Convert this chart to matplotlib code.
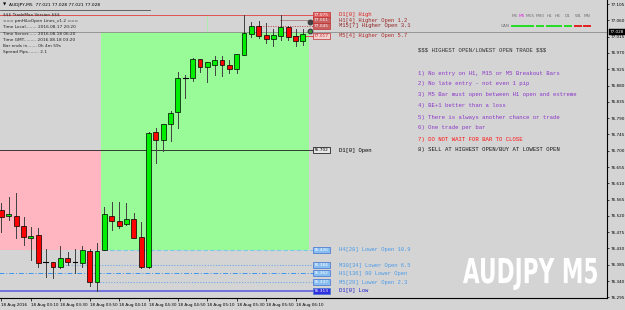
import numpy as np
import matplotlib
matplotlib.use('Agg')
import matplotlib.pyplot as plt
from matplotlib.patches import Rectangle, PathPatch
from matplotlib.textpath import TextPath
from matplotlib.font_manager import FontProperties
from matplotlib.transforms import Affine2D, blended_transform_factory

# ---------------- data ----------------
opens  = [76.536, 76.520, 76.520, 76.492, 76.459, 76.467, 76.393, 76.393, 76.379, 76.404,
          76.393, 76.390, 76.423, 76.337, 76.426, 76.520, 76.506, 76.498, 76.511, 76.462,
          76.379, 76.752, 76.730, 76.774, 76.807, 76.901, 76.901, 76.953, 76.931, 76.937,
          76.951, 76.937, 76.926, 76.964, 77.022, 77.045, 77.020, 77.009, 77.017, 77.042,
          77.017, 77.003]
highs  = [76.556, 76.572, 76.583, 76.517, 76.489, 76.487, 76.429, 76.393, 76.437, 76.420,
          76.429, 76.437, 76.429, 76.445, 76.545, 76.558, 76.558, 76.556, 76.528, 76.503,
          76.752, 76.763, 76.774, 76.810, 76.918, 76.909, 76.956, 76.953, 76.945, 76.962,
          76.962, 76.951, 76.967, 77.075, 77.056, 77.058, 77.053, 77.036, 77.075, 77.045,
          77.036, 77.036]
lows   = [76.476, 76.509, 76.459, 76.440, 76.398, 76.379, 76.351, 76.348, 76.376, 76.384,
          76.362, 76.379, 76.326, 76.313, 76.426, 76.481, 76.487, 76.495, 76.459, 76.376,
          76.376, 76.666, 76.699, 76.727, 76.763, 76.846, 76.893, 76.918, 76.890, 76.909,
          76.906, 76.915, 76.915, 76.964, 77.014, 77.011, 76.998, 76.989, 77.006, 77.006,
          76.989, 76.992]
closes = [76.517, 76.525, 76.492, 76.462, 76.465, 76.390, 76.392, 76.379, 76.404, 76.393,
          76.393, 76.426, 76.337, 76.423, 76.525, 76.506, 76.492, 76.511, 76.459, 76.379,
          76.749, 76.730, 76.774, 76.804, 76.901, 76.901, 76.953, 76.931, 76.945, 76.951,
          76.937, 76.926, 76.967, 77.025, 77.045, 77.017, 77.009, 77.020, 77.042, 77.014,
          77.003, 77.022]

time_tick_pos = [0, 4, 8, 12, 16, 20, 24, 28, 32, 36, 40]
time_tick_labels = ['18 Aug 2016', '18 Aug 03:10', '18 Aug 03:30', '18 Aug 03:50',
                    '18 Aug 04:10', '18 Aug 04:30', '18 Aug 04:50', '18 Aug 05:10',
                    '18 Aug 05:30', '18 Aug 05:50', '18 Aug 06:10']
price_ticks = [76.295, 76.340, 76.385, 76.430, 76.475, 76.520, 76.565, 76.610, 76.655,
               76.700, 76.745, 76.790, 76.835, 76.880, 76.925, 76.970, 77.015, 77.060, 77.105]

bid = 77.028
d1_open = 76.702
high_levels = [77.075, 77.061, 77.045, 77.017]
high_labels = ['D1[0] High', 'H1[4] Higher Open 1.2', 'M15[7] Higher Open 3.1', 'M5[4] Higher Open 5.7']
low_levels = [76.426, 76.384, 76.362, 76.337, 76.313]
low_labels = ['H4[28] Lower Open 10.9', 'M30[34] Lower Open 6.5', 'H1[136] 90 Lower Open',
              'M5[29] Lower Open 2.3', 'D1[0] Low']

rules_title = '$$$ HIGHEST OPEN/LOWEST OPEN TRADE $$$'
rules = ['1) No entry on H1, M15 or M5 Breakout Bars',
         '2) No late entry - not even 1 pip',
         '3) M5 Bar must open between H1 open and extreme',
         '4) BE+1 better than a loss',
         '5) There is always another chance or trade',
         '6) One trade per bar',
         '7) DO NOT WAIT FOR BAR TO CLOSE',
         '8) SELL AT HIGHEST OPEN/BUY AT LOWEST OPEN']
info_lines = ['$$$ TradeMax Version $$$',
              '=== pmHiLoOpen Lines_v1.2 ===',
              'Time Local........ 2016.08.17 20:20',
              'Time Server...... 2016.08.18 06:20',
              'Time GMT......... 2016.08.18 03:20',
              'Bar ends in....... 0h 4m 59s',
              'Spread Pips........ 2.1']
tf_labels = ['M1', 'M5', 'M15', 'M30', 'H1', 'H4', 'D1', 'W1', 'MN']
tf_state = [1, 1, 1, 1, 1, 1, 1, 0, 0]
title_txt = 'AUDJPY,M5  77.021 77.028 77.021 77.028'
watermark = 'AUDJPY M5'

# ---------------- figure ----------------
W, H = 625, 310
BG = '#D4D4D4'
fig = plt.figure(figsize=(W / 100, H / 100), dpi=100, facecolor=BG)

def px(x, y):
    return x / W, 1 - y / H

ax = fig.add_axes([0, (H - 298) / H, 607 / W, 298 / H])
ax.set_facecolor(BG)
ax.set_xlim(-0.204, 82.38)
ax.set_ylim(76.2932, 77.1164)

n = len(opens)
idx = np.arange(n)

# zones
ax.add_patch(Rectangle((-0.3, low_levels[0]), 13.8, d1_open - low_levels[0],
                       facecolor='#FFB6C1', edgecolor='none', zorder=0))
ax.add_patch(Rectangle((13.5, low_levels[0]), 28.34, bid - low_levels[0],
                       facecolor='#98FB98', edgecolor='none', zorder=0))
ax.plot([27.97, 27.97], [bid, high_levels[0]], color='#A8F0A8', lw=0.6, zorder=0.5)

# bid line
ax.axhline(bid, color='#8C8C8C', lw=0.6, zorder=1)

# level lines
lbox_x = 42.38
ax.plot([-0.3, lbox_x], [high_levels[0]] * 2, color='#E05050', lw=0.7, zorder=1)
ax.plot([37.9, lbox_x], [high_levels[1]] * 2, color='#B08888', lw=0.7, zorder=1)
ax.plot([34.9, lbox_x], [high_levels[2]] * 2, color='#C04040', lw=0.7, ls=(0, (1, 1.5)), zorder=1)
ax.plot([39.7, lbox_x], [high_levels[3]] * 2, color='#E04848', lw=0.7, zorder=1)
ax.plot([-0.3, lbox_x], [d1_open] * 2, color='#202020', lw=0.6, zorder=1)
ax.plot([13.8, lbox_x], [low_levels[0]] * 2, color='#7CC8E8', lw=0.8, ls=(0, (4, 2)), zorder=1)
ax.plot([8.0, lbox_x], [low_levels[1]] * 2, color='#6FA8E8', lw=0.8, ls=(0, (1, 1.5)), zorder=1)
ax.plot([-0.3, lbox_x], [low_levels[2]] * 2, color='#3A96F0', lw=0.7, ls=(0, (5, 2, 1, 2)), zorder=1)
ax.plot([13.0, lbox_x], [low_levels[3]] * 2, color='#6FA8E8', lw=0.8, ls=(0, (1, 1.5)), zorder=1)
ax.plot([-0.3, lbox_x], [low_levels[4]] * 2, color='#6A6AE0', lw=1.3, zorder=1)

# candles
for i in idx:
    o, h, l, c = opens[i], highs[i], lows[i], closes[i]
    ax.plot([i, i], [l, h], color='#404040', lw=0.7, zorder=2)
    if abs(c - o) < 0.002:
        ax.plot([i - 0.33, i + 0.33], [o, o], color='black', lw=0.8, zorder=3)
    else:
        col = '#00EE00' if c > o else '#FF0000'
        ax.bar(i, abs(c - o), bottom=min(o, c), width=0.66, color=col,
               edgecolor='black', linewidth=0.5, zorder=3)

# icons near last bar
ax.plot([41.97], [77.0565], 'o', ms=3.2, color='#404040', zorder=4)
ax.plot([41.97], [77.030], 'o', ms=3.2, color='#404040', mfc='#30A030', zorder=4)

# right-side labels
mono = 'Liberation Mono'
hi_box_fc = ['#E06060', '#C86060', '#C86060', '#F2D0D0']
hi_box_tc = ['white', 'white', 'white', '#C03030']
hi_txt_c = ['#E02020', '#A02828', '#902020', '#B02828']
for lv, lab, fc, tc, c in zip(high_levels, high_labels, hi_box_fc, hi_box_tc, hi_txt_c):
    ax.text(lbox_x + 0.15, lv, f'{lv:.3f}', fontsize=3.1, color=tc, va='center', ha='left',
            bbox=dict(boxstyle='square,pad=0.2', fc=fc, ec='#C03030', lw=0.5), zorder=5)
    ax.text(45.9, lv, lab, fontsize=4.0, family=mono, color=c, va='center', ha='left', zorder=5)

ax.text(lbox_x + 0.15, d1_open, f'{d1_open:.3f}', fontsize=3.1, color='black', va='center',
        ha='left', bbox=dict(boxstyle='square,pad=0.2', fc='#E8E8E8', ec='black', lw=0.5), zorder=5)
ax.text(45.9, d1_open, 'D1[0] Open', fontsize=4.0, family=mono, color='black', va='center', ha='left')

for k, (lv, lab) in enumerate(zip(low_levels, low_labels)):
    last = k == len(low_levels) - 1
    fc = '#3030E0' if last else '#88BDF0'
    tcol = '#2020D0' if last else '#4A9AE8'
    ax.text(lbox_x + 0.15, lv, f'{lv:.3f}', fontsize=3.1, color='white', va='center', ha='left',
            bbox=dict(boxstyle='square,pad=0.2', fc=fc, ec='#4070D0', lw=0.5), zorder=5)
    ax.text(45.9, lv, lab, fontsize=4.0, family=mono, color=tcol, va='center', ha='left', zorder=5)

# axes styling
ax.yaxis.tick_right()
ax.set_yticks(price_ticks)
ax.set_yticklabels([f'{v:.3f}' for v in price_ticks])
ax.tick_params(axis='y', labelsize=3.0, length=1.5, width=0.5, pad=1, colors='black')
ax.set_xticks(time_tick_pos)
ax.set_xticklabels(time_tick_labels, ha='left')
ax.tick_params(axis='x', labelsize=3.0, length=2, width=0.5, pad=1.5, colors='black')
for s in ['top', 'left']:
    ax.spines[s].set_visible(False)
for s in ['right', 'bottom']:
    ax.spines[s].set_color('black')
    ax.spines[s].set_linewidth(0.8)

# bid price tag on axis
tr = blended_transform_factory(ax.transAxes, ax.transData)
ax.text(1.004, bid, f'{bid:.3f}', transform=tr, fontsize=3.0, color='white', va='center',
        ha='left', bbox=dict(boxstyle='square,pad=0.2', fc='black', ec='black', lw=0.3),
        zorder=6, clip_on=False)

# title and info block
fig.text(*px(3, 5), '\u25BC', fontsize=3, color='black', va='center', ha='left')
fig.text(*px(9, 5), title_txt, fontsize=3.2, color='black', va='center', ha='left')
fig.add_artist(plt.Line2D([0, 150 / W], [1 - 10 / H] * 2, color='#505050', lw=0.6))
info_y = [15, 21, 27, 34, 40, 46, 52]
for t, yy in zip(info_lines, info_y):
    fig.text(*px(3, yy), t, fontsize=3.1, color='#202020', va='center', ha='left', parse_math=False)

# rules block
fig.text(*px(418, 50), rules_title, fontsize=4.1, family=mono, color='#303030', va='center',
         ha='left', parse_math=False)
rule_y = [73, 84, 95, 106, 117, 128, 139, 150]
for k, (t, yy) in enumerate(zip(rules, rule_y)):
    c = '#8A35C8' if k < 6 else ('#FF1010' if k == 6 else '#181818')
    fig.text(*px(418, yy), t, fontsize=4.1, family=mono, color=c, va='center', ha='left')

# timeframe panel
tf_x = [515, 522, 530, 540, 550, 558, 568, 578, 587]
for lab, xx in zip(tf_labels, tf_x):
    c = '#E020E0' if lab == 'M5' else '#707070'
    fig.text(*px(xx, 16), lab, fontsize=3.1, color=c, va='center', ha='center')
fig.text(*px(505, 26), 'CAN', fontsize=3.1, color='#707070', va='center', ha='center')
for st, xx in zip(tf_state, tf_x):
    c = '#22DD22' if st else '#E02020'
    x0, y0 = px(xx - 3.3, 26)
    x1, _ = px(xx + 3.3, 26)
    fig.add_artist(plt.Line2D([x0, x1], [y0, y0], color=c, lw=1.4))

# watermark
fp = FontProperties(family='DejaVu Sans', weight='bold')
tp = TextPath((0, 0), watermark, size=10, prop=fp)
ext = tp.get_extents()
x0, x1, ytop, ybot = 463, 597, 258, 290
sx = (x1 - x0) / ext.width / W
sy = (ybot - ytop) / ext.height / H
trf = Affine2D().translate(-ext.x0, -ext.y0).scale(sx, sy).translate(x0 / W, 1 - ybot / H)
fig.add_artist(PathPatch(trf.transform_path(tp), facecolor='white', edgecolor='none',
                         transform=fig.transFigure))

fig.savefig('out.png', dpi=100, facecolor=BG)
